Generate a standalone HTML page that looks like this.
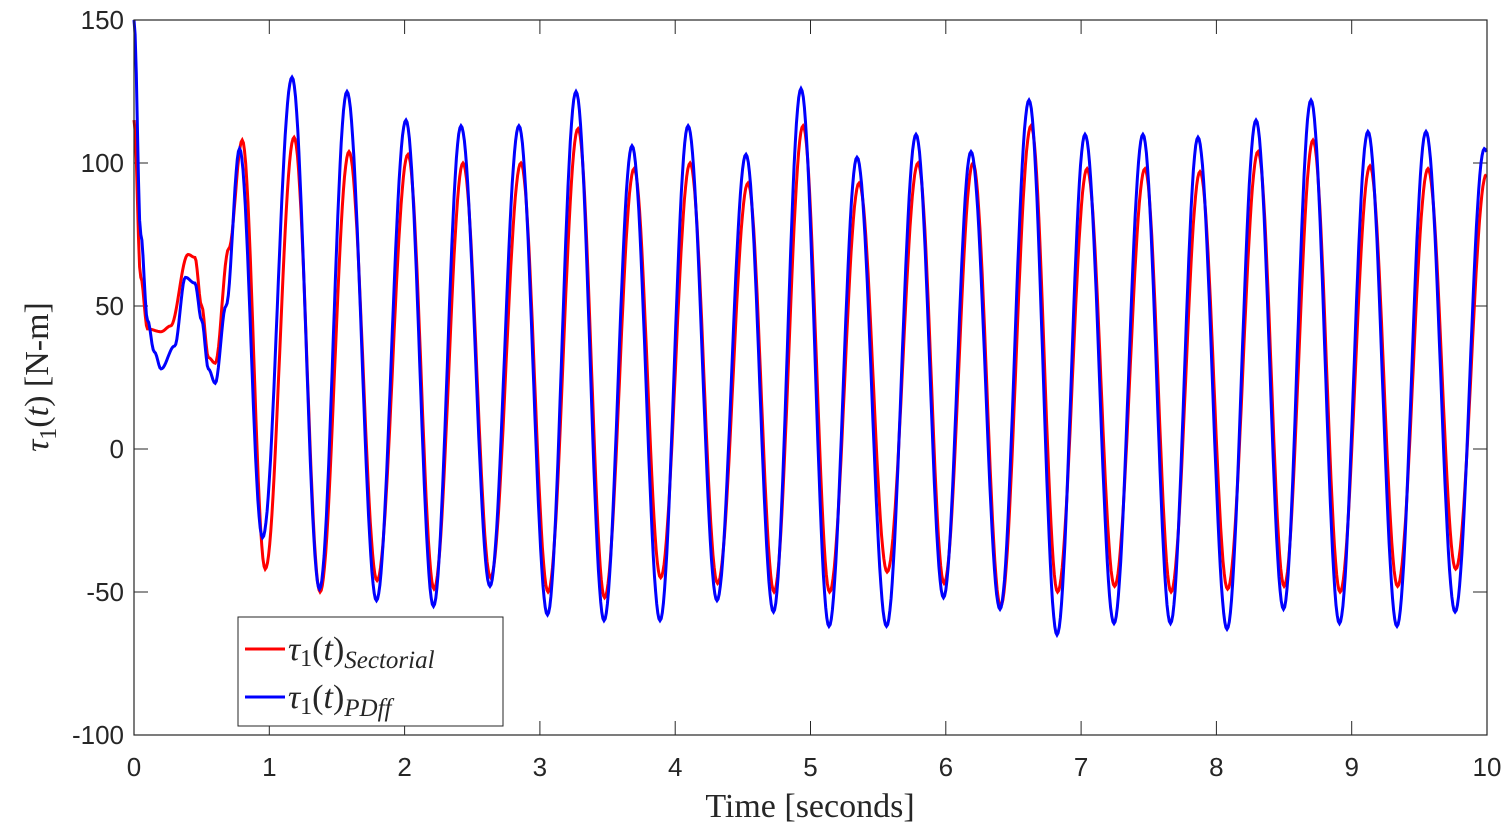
<!DOCTYPE html>
<html><head><meta charset="utf-8"><style>
body{margin:0;background:#fff;}
svg{display:block;}
.t{font-family:"Liberation Sans",sans-serif;font-size:26px;fill:#262626;}
.s{font-family:"Liberation Serif",serif;fill:#262626;}
</style></head><body>
<svg id="c" width="1509" height="835" xmlns="http://www.w3.org/2000/svg">
<rect x="0" y="0" width="1509" height="835" fill="#fff"/>
<g id="ticks" stroke="#262626" stroke-width="1"></g>
<g class="t" id="labs"></g>
<path id="red" fill="none" stroke="#ff0000" stroke-width="3"/>
<path id="blue" fill="none" stroke="#0000ff" stroke-width="3"/>
<rect x="134" y="20" width="1353" height="715" fill="none" stroke="#262626" stroke-width="1.2"/>
<text class="s" x="810" y="817" font-size="34" text-anchor="middle">Time [seconds]</text>
<text class="s" transform="translate(48,377) rotate(-90)" font-size="34" text-anchor="middle"><tspan font-style="italic">τ</tspan><tspan font-size="24" dy="8">1</tspan><tspan dy="-8">(</tspan><tspan font-style="italic">t</tspan><tspan>)  [N-m]</tspan></text>
<rect x="238" y="617" width="265" height="109" fill="#fff" stroke="#262626" stroke-width="1"/>
<line x1="245" y1="649" x2="285" y2="649" stroke="#ff0000" stroke-width="3"/>
<line x1="245" y1="697" x2="285" y2="697" stroke="#0000ff" stroke-width="3"/>
<text class="s" x="288" y="660" font-size="34"><tspan font-style="italic">τ</tspan><tspan font-size="24" dy="6">1</tspan><tspan dy="-6">(</tspan><tspan font-style="italic">t</tspan><tspan>)</tspan><tspan font-style="italic" font-size="25" dy="8">Sectorial</tspan></text>
<text class="s" x="288" y="708" font-size="34"><tspan font-style="italic">τ</tspan><tspan font-size="24" dy="6">1</tspan><tspan dy="-6">(</tspan><tspan font-style="italic">t</tspan><tspan>)</tspan><tspan font-style="italic" font-size="25" dy="8">PDff</tspan></text>
</svg>
<script>
var X=function(t){return 134+t*135.3},Y=function(v){return 449-v*2.86};
var tk=document.getElementById('ticks'),lb=document.getElementById('labs'),ns='http://www.w3.org/2000/svg';
function el(p,n,a,txt){var e=document.createElementNS(ns,n);for(var k in a)e.setAttribute(k,a[k]);if(txt!=null)e.textContent=txt;p.appendChild(e);}
for(var i=0;i<=10;i++){var x=X(i);el(tk,'line',{x1:x,y1:735,x2:x,y2:721});el(tk,'line',{x1:x,y1:20,x2:x,y2:34});el(lb,'text',{x:x,y:776,'text-anchor':'middle'},i);}
for(var v=-100;v<=150;v+=50){var y=Y(v);el(tk,'line',{x1:134,y1:y,x2:148,y2:y});el(tk,'line',{x1:1487,y1:y,x2:1473,y2:y});el(lb,'text',{x:124,y:y+9,'text-anchor':'end'},v);}
var pk=[1.168,1.574,2.01,2.417,2.845,3.267,3.681,4.095,4.523,4.93,5.344,5.78,6.186,6.615,7.029,7.457,7.864,8.293,8.699,9.12,9.549,9.98];
var bp=[130,125,115,113,113,125,106,113,103,126,102,110,104,122,110,110,109,115,122,111,111,105];
var bt=[-49,-53,-55,-48,-58,-60,-60,-53,-57,-62,-62,-52,-56,-65,-61,-61,-63,-56,-61,-62,-57];
var rp=[109,104,103,100,100,112,98,100,93,113,93,100,100,113,98,98,97,104,108,99,98,96];
var rt=[-50,-46,-49,-45,-50,-52,-45,-47,-50,-50,-43,-47,-55,-50,-48,-50,-49,-48,-50,-48,-42];
function build(early,P,T,lag,end){var e=early.slice();for(var i=0;i<pk.length;i++){e.push([pk[i]+lag,P[i]]);if(i<T.length)e.push([(pk[i]+pk[i+1])/2+lag*0.3,T[i]]);}
if(e[e.length-1][0]<10)e.push([10.3,end]);var d='';
for(var j=0;j<e.length-1;j++){var a=e[j],b=e[j+1];var n=Math.max(2,Math.round((b[0]-a[0])*120));for(var k=(j?1:0);k<=n;k++){var s=k/n,t=a[0]+(b[0]-a[0])*s;if(t>10)break;var v=a[1]+(b[1]-a[1])*(1-Math.cos(Math.PI*s))/2;d+=(d?'L':'M')+X(t).toFixed(1)+','+Y(v).toFixed(1);}}return d;}
document.getElementById('blue').setAttribute('d',build([[0,150],[0.05,75],[0.1,45],[0.15,34],[0.2,28],[0.3,36],[0.38,60],[0.45,58],[0.5,45],[0.55,28],[0.6,23],[0.68,50],[0.78,105],[0.95,-31]],bp,bt,0,-55));
document.getElementById('red').setAttribute('d',build([[0,115],[0.05,60],[0.1,42],[0.2,41],[0.27,43],[0.4,68],[0.45,67],[0.5,50],[0.55,32],[0.6,30],[0.7,70],[0.8,108],[0.97,-42]],rp,rt,0.015,-42));
</script>
</body></html>
